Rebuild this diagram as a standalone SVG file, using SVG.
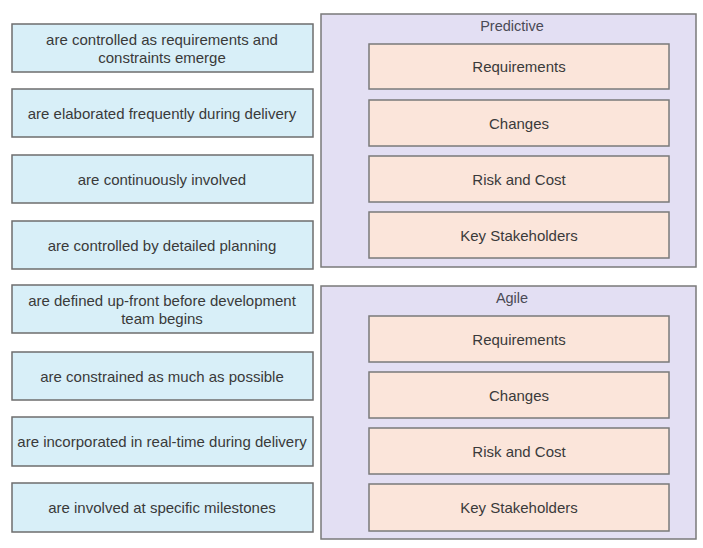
<svg xmlns="http://www.w3.org/2000/svg" width="703" height="548" viewBox="0 0 703 548">
<style>
.opt{fill:#d8eff8;stroke:#6e6e6e;stroke-width:1.5}
.panel{fill:#e3dff3;stroke:#7a7a7a;stroke-width:1.5}
.slot{fill:#fbe5da;stroke:#7a7a7a;stroke-width:1.5}
text{font-family:"Liberation Sans",Arial,sans-serif;fill:#3a3a3a;text-anchor:middle}
.ot{font-size:15px}
.st{font-size:15px}
.tt{font-size:14.5px;fill:#4a4a55}
</style>
<rect width="703" height="548" fill="#ffffff"/>
<g id="options">
<g id="opt1"><rect class="opt" x="12" y="24" width="301" height="48"/><text class="ot" x="162" y="45">are controlled as requirements and</text><text class="ot" x="162" y="63">constraints emerge</text></g>
<g id="opt2"><rect class="opt" x="12" y="89" width="301" height="48"/><text class="ot" x="162" y="119">are elaborated frequently during delivery</text></g>
<g id="opt3"><rect class="opt" x="12" y="155" width="301" height="48"/><text class="ot" x="162" y="185">are continuously involved</text></g>
<g id="opt4"><rect class="opt" x="12" y="221" width="301" height="48"/><text class="ot" x="162" y="251">are controlled by detailed planning</text></g>
<g id="opt5"><rect class="opt" x="12" y="285" width="301" height="48"/><text class="ot" x="162" y="306">are defined up-front before development</text><text class="ot" x="162" y="324">team begins</text></g>
<g id="opt6"><rect class="opt" x="12" y="352" width="301" height="48"/><text class="ot" x="162" y="382">are constrained as much as possible</text></g>
<g id="opt7"><rect class="opt" x="12" y="417" width="301" height="49"/><text class="ot" x="162" y="447">are incorporated in real-time during delivery</text></g>
<g id="opt8"><rect class="opt" x="12" y="483" width="301" height="49"/><text class="ot" x="162" y="513">are involved at specific milestones</text></g>
</g>
<g id="predictive">
<rect class="panel" x="321" y="14" width="375" height="253"/>
<text class="tt" x="512" y="31">Predictive</text>
<g id="p-req"><rect class="slot" x="369" y="44" width="300" height="45"/><text class="st" x="519" y="72">Requirements</text></g>
<g id="p-chg"><rect class="slot" x="369" y="100" width="300" height="46"/><text class="st" x="519" y="129">Changes</text></g>
<g id="p-risk"><rect class="slot" x="369" y="156" width="300" height="46"/><text class="st" x="519" y="185">Risk and Cost</text></g>
<g id="p-key"><rect class="slot" x="369" y="212" width="300" height="46"/><text class="st" x="519" y="241">Key Stakeholders</text></g>
</g>
<g id="agile">
<rect class="panel" x="321" y="286" width="375" height="253"/>
<text class="tt" x="512" y="303">Agile</text>
<g id="a-req"><rect class="slot" x="369" y="316" width="300" height="46"/><text class="st" x="519" y="345">Requirements</text></g>
<g id="a-chg"><rect class="slot" x="369" y="372" width="300" height="46"/><text class="st" x="519" y="401">Changes</text></g>
<g id="a-risk"><rect class="slot" x="369" y="428" width="300" height="46"/><text class="st" x="519" y="457">Risk and Cost</text></g>
<g id="a-key"><rect class="slot" x="369" y="484" width="300" height="47"/><text class="st" x="519" y="513">Key Stakeholders</text></g>
</g>
<g id="connectors"/>
</svg>
